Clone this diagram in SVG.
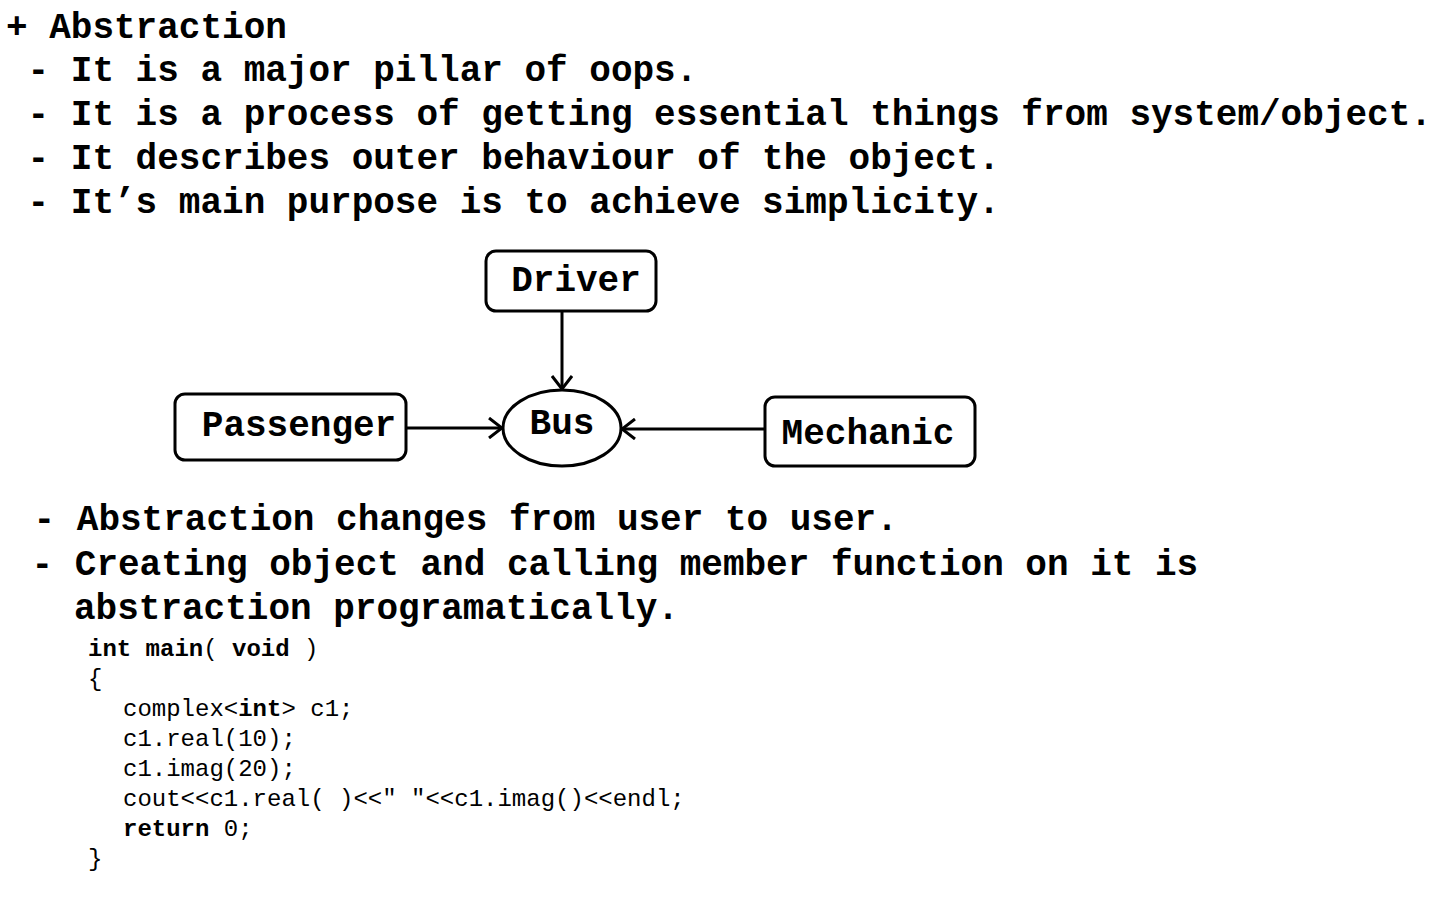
<svg xmlns="http://www.w3.org/2000/svg" width="1440" height="900" viewBox="0 0 1440 900">
<style>
.t{font-family:"Liberation Mono","Courier New",monospace;font-weight:bold;font-size:36px;fill:#000;white-space:pre}
.c{font-family:"Liberation Mono","Courier New",monospace;font-size:24px;fill:#000;white-space:pre}
.b{font-weight:bold}
.n{fill:#fff;stroke:#000;stroke-width:3}
.e{stroke:#000;stroke-width:3;fill:none}
</style>
<defs>
<marker id="a" markerWidth="22" markerHeight="22" viewBox="0 0 22 22" refX="20" refY="11" orient="auto" markerUnits="userSpaceOnUse">
<path d="M7,1 L20,11 L7,21" fill="none" stroke="#000" stroke-width="3"/>
</marker>
</defs>
<rect width="1440" height="900" fill="#fff"/>
<g id="text-top">
<text class="t" x="6" y="38">+ Abstraction</text>
<text class="t" x="6" y="81"> - It is a major pillar of oops.</text>
<text class="t" x="6" y="125"> - It is a process of getting essential things from system/object.</text>
<text class="t" x="6" y="169"> - It describes outer behaviour of the object.</text>
<text class="t" x="6" y="213"> - It’s main purpose is to achieve simplicity.</text>
</g>
<g id="connectors">
<line class="e" x1="562" y1="311" x2="562" y2="389" marker-end="url(#a)"/>
<line class="e" x1="406" y1="428" x2="502" y2="428" marker-end="url(#a)"/>
<line class="e" x1="765" y1="429" x2="622" y2="429" marker-end="url(#a)"/>
</g>
<g id="driver">
<rect class="n" x="486" y="251" width="170" height="60" rx="10"/>
<text class="t" x="576" y="291" text-anchor="middle">Driver</text>
</g>
<g id="passenger">
<rect class="n" x="175" y="394" width="231" height="66" rx="10"/>
<text class="t" x="299" y="436" text-anchor="middle">Passenger</text>
</g>
<g id="bus">
<ellipse class="n" cx="562" cy="428" rx="59" ry="38"/>
<text class="t" x="562" y="434" text-anchor="middle">Bus</text>
</g>
<g id="mechanic">
<rect class="n" x="765" y="397" width="210" height="69" rx="10"/>
<text class="t" x="868" y="444" text-anchor="middle">Mechanic</text>
</g>
<g id="text-bottom">
<text class="t" x="12" y="530"> - Abstraction changes from user to user.</text>
<text class="t" x="10" y="575"> - Creating object and calling member function on it is</text>
<text class="t" x="74" y="619">abstraction programatically.</text>
</g>
<g id="code">
<text class="c" x="88" y="656"><tspan class="b">int main</tspan>( <tspan class="b">void</tspan> )</text>
<text class="c" x="88" y="686">{</text>
<text class="c" x="123" y="716">complex&lt;<tspan class="b">int</tspan>&gt; c1;</text>
<text class="c" x="123" y="746">c1.real(10);</text>
<text class="c" x="123" y="776">c1.imag(20);</text>
<text class="c" x="123" y="806">cout&lt;&lt;c1.real( )&lt;&lt;" "&lt;&lt;c1.imag()&lt;&lt;endl;</text>
<text class="c" x="123" y="836"><tspan class="b">return</tspan> 0;</text>
<text class="c" x="88" y="866">}</text>
</g>
</svg>
